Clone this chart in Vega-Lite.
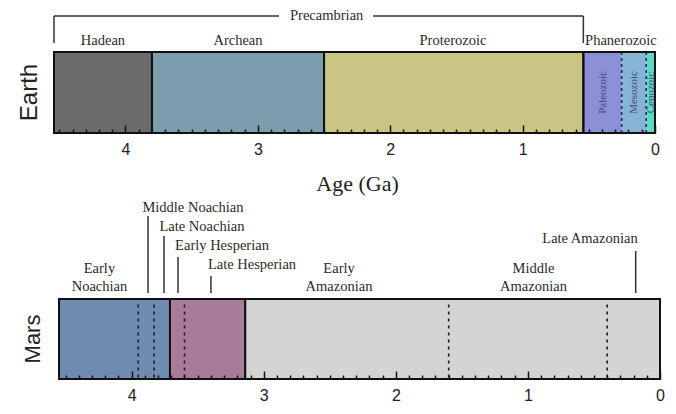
{
  "$schema": "https://vega.github.io/schema/vega-lite/v6.json",
  "background": "white",
  "padding": {"left": 18, "top": 5, "right": 5, "bottom": 5},
  "spacing": 5,
  "resolve": {"scale": {"color": "independent", "x": "independent", "y": "independent"}},
  "config": {"view": {"stroke": null}},
  "datasets": {
    "earthEras": [
      {"era": "Hadean", "start": 4.54, "end": 3.8},
      {"era": "Archean", "start": 3.8, "end": 2.5},
      {"era": "Proterozoic", "start": 2.5, "end": 0.541},
      {"era": "Paleozoic", "start": 0.541, "end": 0.252},
      {"era": "Mesozoic", "start": 0.252, "end": 0.066},
      {"era": "Cenozoic", "start": 0.066, "end": 0}
    ],
    "earthEons": [
      {"eon": "Hadean", "start": 4.54, "end": 3.8},
      {"eon": "Archean", "start": 3.8, "end": 2.5},
      {"eon": "Proterozoic", "start": 2.5, "end": 0.541},
      {"eon": "Phanerozoic", "start": 0.541, "end": 0}
    ],
    "earthDashed": [{"age": 0.252}, {"age": 0.066}],
    "earthLabels": [
      {"label": "Hadean", "age": 4.17, "pos": 1.136},
      {"label": "Archean", "age": 3.15, "pos": 1.136},
      {"label": "Proterozoic", "age": 1.526, "pos": 1.136},
      {"label": "Phanerozoic", "age": 0.257, "pos": 1.136},
      {"label": "Precambrian", "age": 2.48, "pos": 1.444}
    ],
    "earthSubLabels": [
      {"label": "Paleozoic", "age": 0.396, "pos": 0.5},
      {"label": "Mesozoic", "age": 0.159, "pos": 0.5},
      {"label": "Cenozoic", "age": 0.033, "pos": 0.5}
    ],
    "earthBracket": [
      {"x1": 4.54, "x2": 2.84, "y1": 1.444, "y2": 1.444},
      {"x1": 2.13, "x2": 0.541, "y1": 1.444, "y2": 1.444},
      {"x1": 4.54, "x2": 4.54, "y1": 1.444, "y2": 1.111},
      {"x1": 0.541, "x2": 0.541, "y1": 1.444, "y2": 1.111}
    ],
    "earthTitle": [{"label": "Earth", "age": 4.72, "pos": 0.5}],
    "marsPeriods": [
      {"period": "Noachian", "start": 4.55, "end": 3.71},
      {"period": "Hesperian", "start": 3.71, "end": 3.14},
      {"period": "Amazonian", "start": 3.14, "end": 0}
    ],
    "marsDashed": [{"age": 3.95}, {"age": 3.83}, {"age": 3.6}, {"age": 1.6}, {"age": 0.4}],
    "marsLabels": [
      {"label": "Early\nNoachian", "age": 4.244, "pos": 1.375},
      {"label": "Middle Noachian", "age": 3.536, "pos": 2.1375},
      {"label": "Late Noachian", "age": 3.468, "pos": 1.9},
      {"label": "Early Hesperian", "age": 3.316, "pos": 1.6625},
      {"label": "Late Hesperian", "age": 3.089, "pos": 1.425},
      {"label": "Early\nAmazonian", "age": 2.43, "pos": 1.375},
      {"label": "Middle\nAmazonian", "age": 0.958, "pos": 1.375},
      {"label": "Late Amazonian", "age": 0.53, "pos": 1.75}
    ],
    "marsLeaders": [
      {"x1": 3.876, "x2": 3.876, "y1": 2.0375, "y2": 1.075},
      {"x1": 3.755, "x2": 3.755, "y1": 1.7875, "y2": 1.075},
      {"x1": 3.649, "x2": 3.649, "y1": 1.525, "y2": 1.075},
      {"x1": 3.4, "x2": 3.4, "y1": 1.2875, "y2": 1.075},
      {"x1": 0.184, "x2": 0.184, "y1": 1.6, "y2": 1.075}
    ],
    "marsTitle": [{"label": "Mars", "age": 4.747, "pos": 0.5}]
  },
  "vconcat": [
    {
      "width": 606,
      "height": 128,
      "resolve": {"axis": {"x": "independent"}},
      "layer": [
        {
          "data": {"name": "earthEras"},
          "mark": {"type": "rect"},
          "encoding": {
            "x": {
              "field": "start", "type": "quantitative",
              "scale": {"domain": [4.54, -0.038], "nice": false, "zero": false},
              "axis": {
                "orient": "bottom",
                "values": [0, 1, 2, 3, 4],
                "format": "d",
                "tickSize": -8, "tickColor": "#111", "tickWidth": 1.5, "zindex": 1,
                "domain": false, "grid": false,
                "labelFont": "Liberation Sans", "labelFontSize": 16, "labelColor": "#222",
                "labelPadding": 16, "labelFlush": false, "labelOverlap": false,
                "title": "Age (Ga)", "titleFont": "Liberation Serif", "titleFontSize": 22,
                "titleFontWeight": "normal", "titleColor": "#222", "titlePadding": 16
              }
            },
            "x2": {"field": "end"},
            "y": {"datum": 0, "type": "quantitative", "scale": {"domain": [0, 1.58], "nice": false, "zero": false}, "axis": null},
            "y2": {"datum": 1},
            "color": {
              "field": "era", "type": "nominal", "legend": null,
              "scale": {
                "domain": ["Hadean", "Archean", "Proterozoic", "Paleozoic", "Mesozoic", "Cenozoic"],
                "range": ["#6b6b6b", "#7b9dac", "#c9c685", "#8b8fd6", "#87b4d4", "#5cdcc8"]
              }
            }
          }
        },
        {
          "data": {"name": "earthDashed"},
          "mark": {"type": "rule", "color": "#1d2b55", "strokeWidth": 1.6, "strokeDash": [3, 3]},
          "encoding": {
            "x": {
              "field": "age", "type": "quantitative",
              "axis": {
                "orient": "bottom",
                "values": [0.1, 0.2, 0.3, 0.4, 0.5, 0.6, 0.7, 0.8, 0.9, 1.1, 1.2, 1.3, 1.4, 1.5, 1.6, 1.7, 1.8, 1.9, 2.1, 2.2, 2.3, 2.4, 2.5, 2.6, 2.7, 2.8, 2.9, 3.1, 3.2, 3.3, 3.4, 3.5, 3.6, 3.7, 3.8, 3.9, 4.1, 4.2, 4.3, 4.4, 4.5],
                "labels": false, "title": null,
                "tickSize": -4, "tickColor": "#111", "tickWidth": 1.5, "zindex": 1,
                "domain": false, "grid": false
              }
            },
            "y": {"datum": 0, "type": "quantitative"},
            "y2": {"datum": 1}
          }
        },
        {
          "data": {"name": "earthEons"},
          "mark": {"type": "rect", "filled": false, "stroke": "#111", "strokeWidth": 2},
          "encoding": {
            "x": {"field": "start", "type": "quantitative", "axis": null},
            "x2": {"field": "end"},
            "y": {"datum": 0, "type": "quantitative"},
            "y2": {"datum": 1}
          }
        },
        {
          "data": {"name": "earthLabels"},
          "mark": {"type": "text", "font": "Liberation Serif", "fontSize": 14.5, "color": "#2a2a2a", "align": "center", "baseline": "middle"},
          "encoding": {
            "x": {"field": "age", "type": "quantitative", "axis": null},
            "y": {"field": "pos", "type": "quantitative"},
            "text": {"field": "label"}
          }
        },
        {
          "data": {"name": "earthSubLabels"},
          "mark": {"type": "text", "font": "Liberation Serif", "fontSize": 11, "color": "#4a4a7a", "align": "center", "baseline": "middle", "angle": 270},
          "encoding": {
            "x": {"field": "age", "type": "quantitative", "axis": null},
            "y": {"field": "pos", "type": "quantitative"},
            "text": {"field": "label"}
          }
        },
        {
          "data": {"name": "earthBracket"},
          "mark": {"type": "rule", "color": "#333", "strokeWidth": 1.5},
          "encoding": {
            "x": {"field": "x1", "type": "quantitative", "axis": null},
            "x2": {"field": "x2"},
            "y": {"field": "y1", "type": "quantitative"},
            "y2": {"field": "y2"}
          }
        },
        {
          "data": {"name": "earthTitle"},
          "mark": {"type": "text", "font": "Liberation Sans", "fontSize": 24, "color": "#222", "align": "center", "baseline": "middle", "angle": 270},
          "encoding": {
            "x": {"field": "age", "type": "quantitative", "axis": null},
            "y": {"field": "pos", "type": "quantitative"},
            "text": {"field": "label"}
          }
        }
      ]
    },
    {
      "width": 606,
      "height": 180,
      "resolve": {"axis": {"x": "independent"}},
      "layer": [
        {
          "data": {"name": "marsPeriods"},
          "mark": {"type": "rect", "stroke": "#111", "strokeWidth": 2},
          "encoding": {
            "x": {
              "field": "start", "type": "quantitative",
              "scale": {"domain": [4.588, 0], "nice": false, "zero": false},
              "axis": {
                "orient": "bottom",
                "values": [0, 1, 2, 3, 4],
                "format": "d",
                "tickSize": -8, "tickColor": "#111", "tickWidth": 1.5, "zindex": 1,
                "domain": false, "grid": false,
                "labelFont": "Liberation Sans", "labelFontSize": 16, "labelColor": "#222",
                "labelPadding": 16, "labelFlush": false, "labelOverlap": false,
                "title": null
              }
            },
            "x2": {"field": "end"},
            "y": {"datum": 0, "type": "quantitative", "scale": {"domain": [0, 2.25], "nice": false, "zero": false}, "axis": null},
            "y2": {"datum": 1},
            "color": {
              "field": "period", "type": "nominal", "legend": null,
              "scale": {
                "domain": ["Noachian", "Hesperian", "Amazonian"],
                "range": ["#6f8bb0", "#a87c98", "#d4d4d4"]
              }
            }
          }
        },
        {
          "data": {"name": "marsDashed"},
          "mark": {"type": "rule", "color": "#1a1a2a", "strokeWidth": 1.6, "strokeDash": [3, 4]},
          "encoding": {
            "x": {
              "field": "age", "type": "quantitative",
              "axis": {
                "orient": "bottom",
                "values": [0.1, 0.2, 0.3, 0.4, 0.5, 0.6, 0.7, 0.8, 0.9, 1.1, 1.2, 1.3, 1.4, 1.5, 1.6, 1.7, 1.8, 1.9, 2.1, 2.2, 2.3, 2.4, 2.5, 2.6, 2.7, 2.8, 2.9, 3.1, 3.2, 3.3, 3.4, 3.5, 3.6, 3.7, 3.8, 3.9, 4.1, 4.2, 4.3, 4.4, 4.5],
                "labels": false, "title": null,
                "tickSize": -4, "tickColor": "#111", "tickWidth": 1.5, "zindex": 1,
                "domain": false, "grid": false
              }
            },
            "y": {"datum": 0.02, "type": "quantitative"},
            "y2": {"datum": 0.98}
          }
        },
        {
          "data": {"name": "marsLabels"},
          "mark": {"type": "text", "font": "Liberation Serif", "fontSize": 14.5, "color": "#2a2a2a", "align": "center", "baseline": "middle", "lineBreak": "\n", "lineHeight": 18},
          "encoding": {
            "x": {"field": "age", "type": "quantitative", "axis": null},
            "y": {"field": "pos", "type": "quantitative"},
            "text": {"field": "label"}
          }
        },
        {
          "data": {"name": "marsLeaders"},
          "mark": {"type": "rule", "color": "#333", "strokeWidth": 1.5},
          "encoding": {
            "x": {"field": "x1", "type": "quantitative", "axis": null},
            "x2": {"field": "x2"},
            "y": {"field": "y1", "type": "quantitative"},
            "y2": {"field": "y2"}
          }
        },
        {
          "data": {"name": "marsTitle"},
          "mark": {"type": "text", "font": "Liberation Sans", "fontSize": 22, "color": "#222", "align": "center", "baseline": "middle", "angle": 270},
          "encoding": {
            "x": {"field": "age", "type": "quantitative", "axis": null},
            "y": {"field": "pos", "type": "quantitative"},
            "text": {"field": "label"}
          }
        }
      ]
    }
  ]
}
